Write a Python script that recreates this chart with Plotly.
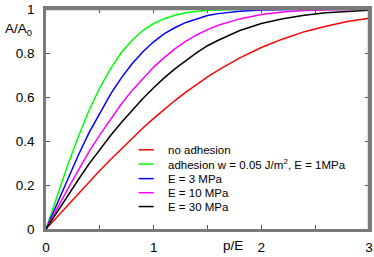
import plotly.graph_objects as go

# p/E values (x axis)
p_over_E = [0, 0.05, 0.1, 0.2, 0.3, 0.4, 0.5, 0.6, 0.7, 0.8, 0.9, 1.0, 1.1, 1.2, 1.3,
            1.4, 1.5, 1.6, 1.8, 2.0, 2.2, 2.4, 2.6, 2.8, 3.0]

no_adhesion = [0, 0.027, 0.054, 0.108, 0.161, 0.214, 0.266, 0.316, 0.365, 0.413, 0.459,
               0.503, 0.545, 0.585, 0.622, 0.658, 0.691, 0.722, 0.778, 0.825, 0.864,
               0.897, 0.922, 0.943, 0.958]
adhesion_1MPa = [0, 0.073, 0.146, 0.287, 0.419, 0.540, 0.642, 0.729, 0.802, 0.858, 0.902,
                 0.934, 0.956, 0.972, 0.983, 0.990, 0.994, 0.996, 0.999, 1.0, 1.0,
                 1.0, 1.0, 1.0, 1.0]
E_3MPa = [0, 0.057, 0.115, 0.227, 0.335, 0.438, 0.529, 0.613, 0.687, 0.751, 0.806,
          0.851, 0.888, 0.916, 0.939, 0.956, 0.970, 0.979, 0.990, 0.996, 0.998,
          0.999, 1.0, 1.0, 1.0]
E_10MPa = [0, 0.046, 0.091, 0.180, 0.267, 0.352, 0.428, 0.500, 0.568, 0.630, 0.685,
           0.736, 0.780, 0.820, 0.854, 0.882, 0.906, 0.926, 0.955, 0.975, 0.986,
           0.993, 0.996, 0.998, 0.999]
E_30MPa = [0, 0.038, 0.076, 0.150, 0.224, 0.296, 0.362, 0.425, 0.484, 0.540, 0.593,
           0.642, 0.688, 0.729, 0.767, 0.802, 0.833, 0.858, 0.902, 0.934, 0.956,
           0.972, 0.983, 0.990, 0.994]

series = [
    ("no adhesion", no_adhesion, "#ff0000"),
    ("adhesion w = 0.05 J/m<sup>2</sup>, E = 1MPa", adhesion_1MPa, "#00ff00"),
    ("E = 3 MPa", E_3MPa, "#0000ff"),
    ("E = 10 MPa", E_10MPa, "#ff00ff"),
    ("E = 30 MPa", E_30MPa, "#000000"),
]

x_tickvals = [0, 1, 2, 3]
x_ticktext = ["0", "1", "2", "3"]
y_tickvals = [0, 0.2, 0.4, 0.6, 0.8, 1.0]
y_ticktext = ["0", "0.2", "0.4", "0.6", "0.8", "1"]

FONT = "Liberation Sans, Arial, Helvetica, sans-serif"
FRAME = "#7a7a7a"

fig = go.Figure()
for name, ys, col in series:
    fig.add_trace(go.Scatter(x=p_over_E, y=ys, mode="lines", name=name,
                             line=dict(color=col, width=1.5), showlegend=False,
                             cliponaxis=False))

# hand-made legend (short line samples, tight rows)
leg_y = [0.36, 0.295, 0.229, 0.165, 0.102]
for (name, ys, col), ly in zip(series, leg_y):
    fig.add_shape(type="line", xref="x", yref="y", x0=0.86, x1=1.0, y0=ly, y1=ly,
                  line=dict(color=col, width=1.5))
    fig.add_annotation(x=1.11, y=ly, xref="x", yref="y", text=name, showarrow=False,
                       xanchor="left", yanchor="middle",
                       font=dict(size=11.5, color="#000", family=FONT))

# top and right sides of the box
fig.add_shape(type="line", xref="paper", yref="paper", x0=0, x1=1, y0=1, y1=1,
              line=dict(color=FRAME, width=2.5), layer="above")
fig.add_shape(type="line", xref="paper", yref="paper", x0=1, x1=1, y0=0, y1=1,
              line=dict(color=FRAME, width=2.5), layer="above")

fig.add_annotation(x=-0.133, y=0.905, xref="paper", yref="paper", text="A/A<sub>0</sub>",
                   showarrow=False, xanchor="left", yanchor="middle",
                   font=dict(size=13.5, color="#000", family=FONT))
fig.add_annotation(x=0.58, y=-0.075, xref="paper", yref="paper", text="p/E",
                   showarrow=False, xanchor="center", yanchor="middle",
                   font=dict(size=13.5, color="#000", family=FONT))

axis_common = dict(showgrid=False, zeroline=False, showline=True, linecolor=FRAME,
                   linewidth=2.5, mirror="allticks", ticks="inside", ticklen=4,
                   tickcolor="#555555", tickwidth=1.2,
                   tickfont=dict(size=13.5, color="#000", family=FONT))

fig.update_xaxes(range=[0, 3], tickvals=x_tickvals, ticktext=x_ticktext,
                 ticklabelstandoff=4,
                 minor=dict(dtick=0.5, tick0=0, ticks="inside", ticklen=4,
                            tickcolor="#555555", tickwidth=1.2, showgrid=False),
                 **axis_common)
fig.update_yaxes(range=[0, 1], tickvals=y_tickvals, ticktext=y_ticktext,
                 ticklabelstandoff=6, **axis_common)

fig.update_layout(width=374, height=257, autosize=False,
                  margin=dict(l=46, r=2, t=8, b=27),
                  paper_bgcolor="white", plot_bgcolor="white",
                  font=dict(family=FONT, color="#000"))

fig.write_html("out.html", config={"displayModeBar": False, "responsive": False},
               post_script="document.body.style.margin='0';")
